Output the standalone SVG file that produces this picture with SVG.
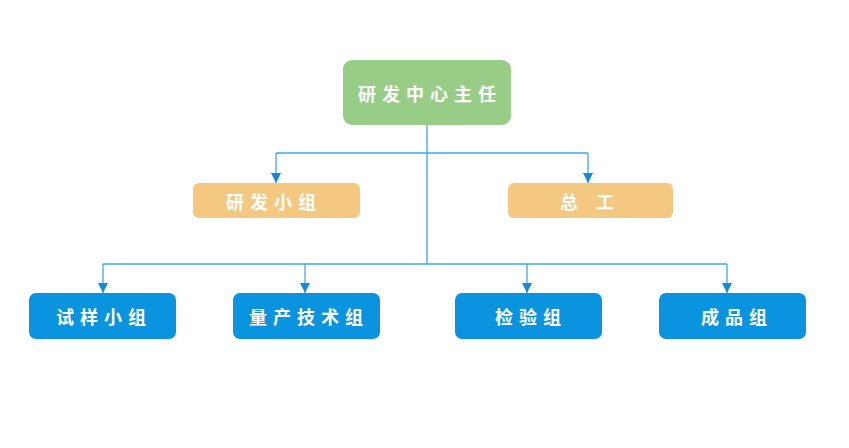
<svg xmlns="http://www.w3.org/2000/svg" width="849" height="448" viewBox="0 0 849 448">
<defs>
<style>
.t{font-family:"Noto Sans CJK SC","Noto Sans",sans-serif;font-weight:bold;font-size:18px;fill:#ffffff;text-anchor:middle;dominant-baseline:central;letter-spacing:6px}
.ln{fill:none;stroke:#3ba8e6;stroke-width:1.3}
.g{fill:#97cd87}
.o{fill:#f5c882}
.b{fill:#0a94df}
</style>
<marker id="ar" viewBox="0 0 10 10" refX="10" refY="5" markerWidth="10" markerHeight="10" markerUnits="userSpaceOnUse" orient="auto">
<path d="M0,0 L10,5 L0,10 Z" fill="#1689dc"/>
</marker>
</defs>
<rect width="849" height="448" fill="#ffffff"/>
<g id="connectors">
<path class="ln" d="M427,125 V264"/>
<path class="ln" d="M276,153 H588"/>
<path class="ln" d="M276,153 V183" marker-end="url(#ar)"/>
<path class="ln" d="M588,153 V183" marker-end="url(#ar)"/>
<path class="ln" d="M103,264 H727"/>
<path class="ln" d="M103,264 V293" marker-end="url(#ar)"/>
<path class="ln" d="M305,264 V293" marker-end="url(#ar)"/>
<path class="ln" d="M527,264 V293" marker-end="url(#ar)"/>
<path class="ln" d="M727,264 V293" marker-end="url(#ar)"/>
</g>
<g id="n_top"><rect class="g" x="343" y="60" width="168" height="65" rx="9"/><text class="t" x="430" y="93">研发中心主任</text></g>
<g id="n_rd"><rect class="o" x="193" y="183" width="167" height="35" rx="6"/><text class="t" x="274" y="201">研发小组</text></g>
<g id="n_zg"><rect class="o" x="508" y="183" width="165" height="35" rx="6"/><text class="t" x="587" y="201" style="letter-spacing:0">总　工</text></g>
<g id="n_sy"><rect class="b" x="29" y="293" width="147" height="46" rx="7"/><text class="t" x="104" y="316">试样小组</text></g>
<g id="n_lc"><rect class="b" x="233" y="293" width="147" height="46" rx="7"/><text class="t" x="309" y="316">量产技术组</text></g>
<g id="n_jy"><rect class="b" x="455" y="293" width="147" height="46" rx="7"/><text class="t" x="531" y="316">检验组</text></g>
<g id="n_cp"><rect class="b" x="659" y="293" width="147" height="46" rx="7"/><text class="t" x="737" y="316">成品组</text></g>
</svg>
